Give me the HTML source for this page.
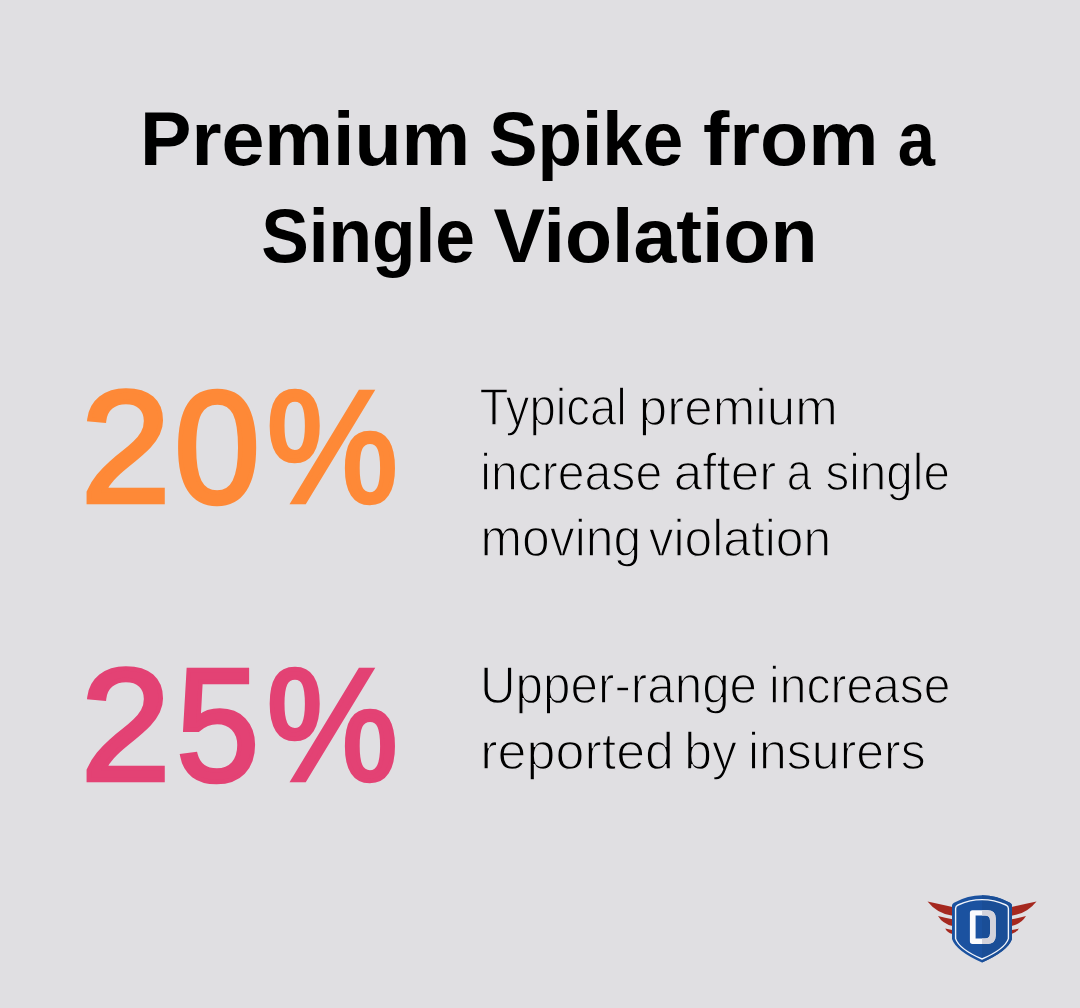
<!DOCTYPE html>
<html>
<head>
<meta charset="utf-8">
<style>
html,body{margin:0;padding:0;background:#e0dfe2;}
body{width:1080px;height:1008px;overflow:hidden;position:relative;}
svg{position:absolute;left:0;top:0;}
text{font-family:"Liberation Sans",sans-serif;}
</style>
</head>
<body>
<svg width="1080" height="1008" viewBox="0 0 1080 1008">
  <rect width="1080" height="1008" fill="#e0dfe2"/>
  <!-- Title -->
  <g font-weight="bold" font-size="76" fill="#000">
    <text transform="translate(139.92 164.5) scale(1.0155 1)">Premium</text>
    <text transform="translate(489.03 164.5) scale(0.9579 1)">Spike</text>
    <text transform="translate(702.96 164.5) scale(1.0393 1)">from</text>
    <text transform="translate(897.64 164.5) scale(0.8805 1)">a</text>
    <text transform="translate(261.19 262) scale(0.9378 1)">Single</text>
    <text transform="translate(493.59 262) scale(1.0140 1)">Violation</text>
  </g>
  <!-- Numbers -->
  <g font-size="159.3" stroke-width="4.5" stroke-linejoin="miter">
    <text transform="translate(80.85 501.5) scale(1.0146 1)" fill="#fe8937" stroke="#fe8937">2</text>
    <text transform="translate(174.15 501.5) scale(0.9684 1)" fill="#fe8937" stroke="#fe8937">0</text>
    <text transform="translate(266.51 501.5) scale(0.9296 1)" fill="#fe8937" stroke="#fe8937">%</text>
    <text transform="translate(80.85 779.5) scale(1.0146 1)" fill="#e34274" stroke="#e34274">2</text>
    <text transform="translate(176.23 779.5) scale(0.9372 1)" fill="#e34274" stroke="#e34274">5</text>
    <text transform="translate(266.51 779.5) scale(0.9296 1)" fill="#e34274" stroke="#e34274">%</text>
  </g>
  <!-- Descriptions -->
  <g font-size="52" fill="#000" stroke="#e0dfe2" stroke-width="1.4">
    <text transform="translate(479.38 424.5) scale(0.9115 1)">Typical</text>
    <text transform="translate(638.87 424.5) scale(0.9835 1)">premium</text>
    <text transform="translate(480.19 490) scale(0.9263 1)">increase</text>
    <text transform="translate(673.74 490) scale(0.9869 1)">after</text>
    <text transform="translate(786.87 490) scale(0.8600 1)">a</text>
    <text transform="translate(825.45 490) scale(0.9162 1)">single</text>
    <text transform="translate(480.46 556) scale(0.9591 1)">moving</text>
    <text transform="translate(648.69 556) scale(0.9568 1)">violation</text>
    <text transform="translate(479.95 703) scale(0.9496 1)">Upper-range</text>
    <text transform="translate(769.00 703) scale(0.9242 1)">increase</text>
    <text transform="translate(480.30 768.5) scale(1.0005 1)">reported</text>
    <text transform="translate(684.36 768.5) scale(0.9600 1)">by</text>
    <text transform="translate(747.95 768.5) scale(0.9618 1)">insurers</text>
  </g>
  <!-- Logo -->
  <g id="logo">
    <!-- left wings -->
    <path d="M927.5 901.4 Q940 904 952.5 907.1 L952.5 915.7 Q937 913.5 927.5 901.4 Z" fill="#a5281f"/>
    <path d="M938 916.1 Q945 918 952.5 919.2 L952.5 926.1 Q942.5 923.8 938 916.1 Z" fill="#a5281f"/>
    <path d="M945.2 928.5 Q948.5 929.5 952.5 929.9 L952.5 934.1 Q947.3 932.8 945.2 928.5 Z" fill="#a5281f"/>
    <!-- right wings -->
    <path d="M1036.5 901.4 Q1024 904 1011.5 907.1 L1011.5 915.7 Q1027 913.5 1036.5 901.4 Z" fill="#a5281f"/>
    <path d="M1026 916.1 Q1019 918 1011.5 919.2 L1011.5 926.1 Q1021.5 923.8 1026 916.1 Z" fill="#a5281f"/>
    <path d="M1018.8 928.5 Q1015.5 929.5 1011.5 929.9 L1011.5 934.1 Q1016.7 932.8 1018.8 928.5 Z" fill="#a5281f"/>
    <!-- shield -->
    <path d="M952 905.6 Q952 903.6 954 902.7 Q982 888 1010 902.7 Q1012 903.6 1012 905.6 L1012 939 Q1008 951 982 962.5 Q956 951 952 939 Z" fill="#1b52a0"/>
    <path d="M982 895.35 Q996 895.35 1010 902.7 Q1012 903.6 1012 905.6 L1012 939 Q1008 951 982 962.5 Z" fill="#1a4e97"/>
    <path d="M955.6 908.5 Q955.6 906 958 905 Q982 894.2 1006 905 Q1008.4 906 1008.4 908.5 L1008.4 938.6 Q1005 949 982 959 Q959 949 955.6 938.6 Z" fill="none" stroke="#f2f5fb" stroke-width="1.4"/>
    <!-- D -->
    <path d="M972.5 910.2 L987.5 910.2 Q995.7 910.2 995.7 918.5 L995.7 935.6 Q995.7 943.9 987.5 943.9 L972.5 943.9 Q969.9 943.9 969.9 941.3 L969.9 912.8 Q969.9 910.2 972.5 910.2 Z M975.6 915.6 L975.6 938.4 L985 938.4 Q990 938.4 990 933.4 L990 920.6 Q990 915.6 985 915.6 Z" fill="#fbfbfd" fill-rule="evenodd"/>
    <path d="M982 910.2 L987.5 910.2 Q995.7 910.2 995.7 918.5 L995.7 935.6 Q995.7 943.9 987.5 943.9 L982 943.9 L982 938.4 L985 938.4 Q990 938.4 990 933.4 L990 920.6 Q990 915.6 985 915.6 L982 915.6 Z" fill="#d4d3db"/>
  </g>
</svg>
</body>
</html>
